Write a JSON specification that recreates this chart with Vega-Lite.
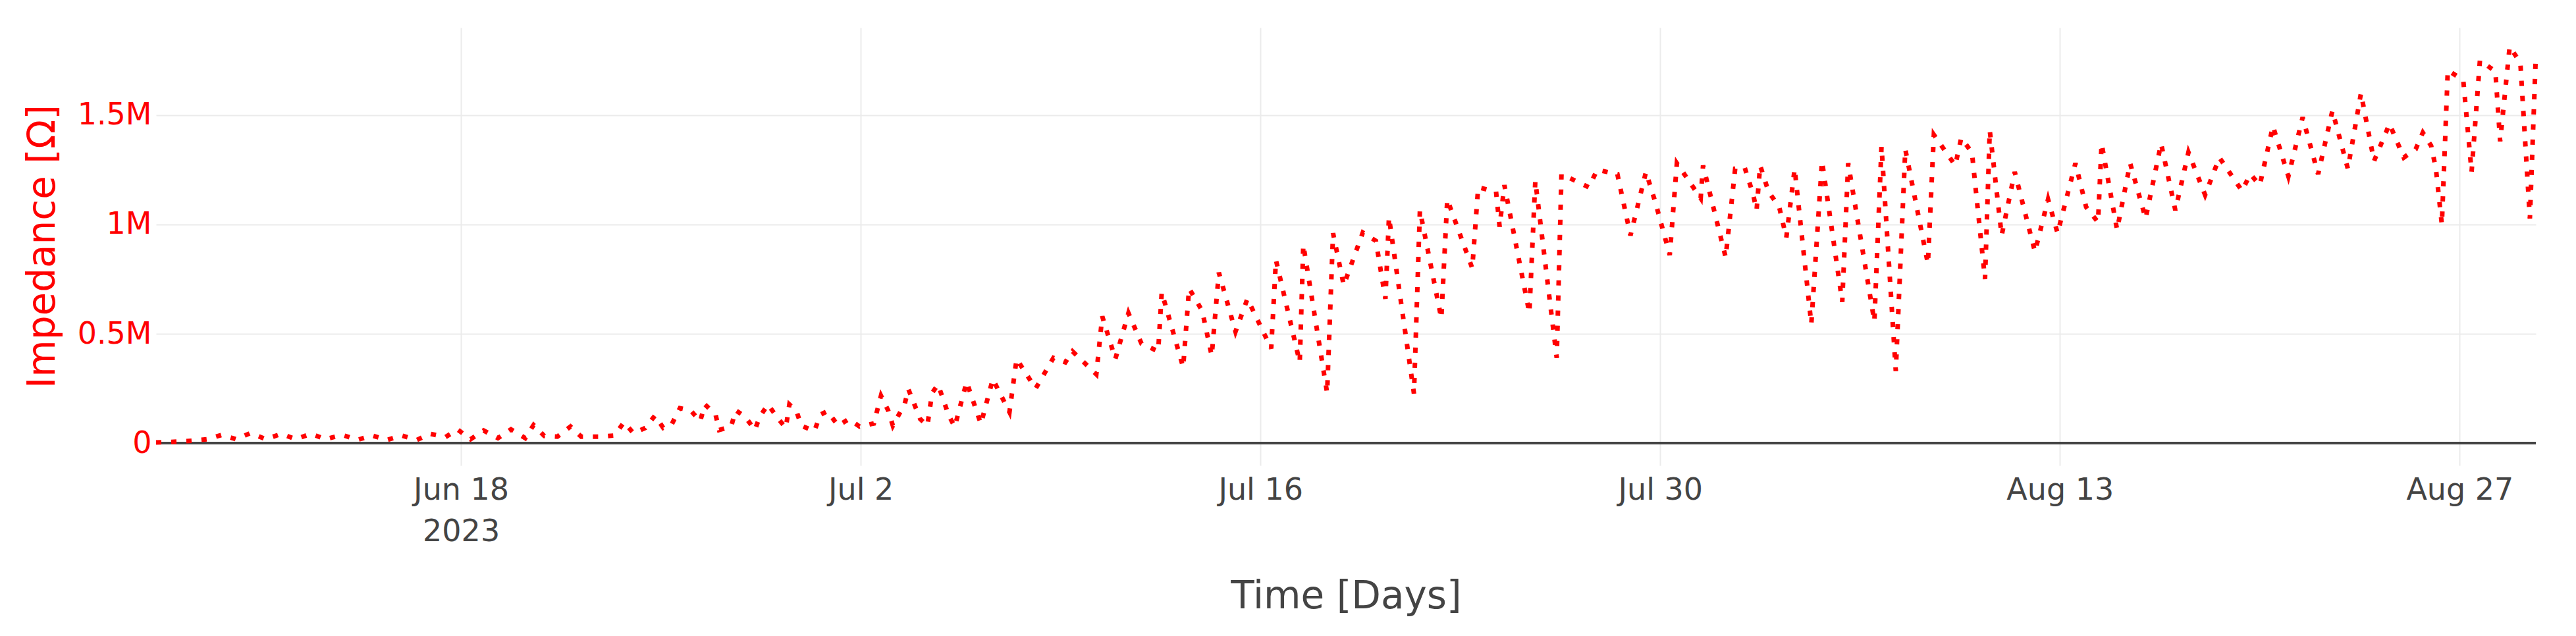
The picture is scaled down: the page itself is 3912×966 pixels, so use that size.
{
  "$schema": "https://vega.github.io/schema/vega-lite/v6.json",
  "width": 3614,
  "height": 665,
  "autosize": {"type": "none"},
  "padding": {"left": 237, "top": 42, "right": 61, "bottom": 259},
  "background": "white",
  "config": {"view": {"stroke": null}, "font": "DejaVu Sans"},
  "data": {"values": [
    {"t": "2023-06-07T07:40", "z": 3000},
    {"t": "2023-06-07T17:00", "z": 5000},
    {"t": "2023-06-08T14:00", "z": 11000},
    {"t": "2023-06-09T03:00", "z": 18000},
    {"t": "2023-06-09T15:00", "z": 38000},
    {"t": "2023-06-10T03:00", "z": 18000},
    {"t": "2023-06-10T15:00", "z": 46000},
    {"t": "2023-06-11T04:00", "z": 18000},
    {"t": "2023-06-11T17:00", "z": 43000},
    {"t": "2023-06-12T05:00", "z": 18000},
    {"t": "2023-06-12T18:00", "z": 43000},
    {"t": "2023-06-13T06:00", "z": 18000},
    {"t": "2023-06-13T20:00", "z": 38000},
    {"t": "2023-06-14T09:00", "z": 15000},
    {"t": "2023-06-14T21:00", "z": 35000},
    {"t": "2023-06-15T10:00", "z": 15000},
    {"t": "2023-06-15T22:00", "z": 35000},
    {"t": "2023-06-16T11:00", "z": 15000},
    {"t": "2023-06-16T22:00", "z": 43000},
    {"t": "2023-06-17T11:00", "z": 28000},
    {"t": "2023-06-17T21:00", "z": 63000},
    {"t": "2023-06-18T08:00", "z": 18000},
    {"t": "2023-06-18T19:00", "z": 58000},
    {"t": "2023-06-19T07:00", "z": 23000},
    {"t": "2023-06-19T18:00", "z": 63000},
    {"t": "2023-06-20T06:00", "z": 23000},
    {"t": "2023-06-20T13:00", "z": 83000},
    {"t": "2023-06-20T22:00", "z": 33000},
    {"t": "2023-06-21T09:00", "z": 30000},
    {"t": "2023-06-21T20:00", "z": 76000},
    {"t": "2023-06-22T05:00", "z": 30000},
    {"t": "2023-06-22T20:00", "z": 30000},
    {"t": "2023-06-23T09:00", "z": 35000},
    {"t": "2023-06-23T17:00", "z": 96000},
    {"t": "2023-06-24T01:00", "z": 45000},
    {"t": "2023-06-24T11:00", "z": 70000},
    {"t": "2023-06-24T19:00", "z": 126000},
    {"t": "2023-06-25T02:00", "z": 70000},
    {"t": "2023-06-25T09:00", "z": 85000},
    {"t": "2023-06-25T16:00", "z": 160000},
    {"t": "2023-06-26T01:00", "z": 150000},
    {"t": "2023-06-26T09:00", "z": 100000},
    {"t": "2023-06-26T13:00", "z": 177000},
    {"t": "2023-06-26T22:00", "z": 130000},
    {"t": "2023-06-27T01:00", "z": 60000},
    {"t": "2023-06-27T11:00", "z": 76000},
    {"t": "2023-06-27T15:00", "z": 150000},
    {"t": "2023-06-27T23:00", "z": 120000},
    {"t": "2023-06-28T07:00", "z": 60000},
    {"t": "2023-06-28T11:00", "z": 120000},
    {"t": "2023-06-28T18:00", "z": 177000},
    {"t": "2023-06-29T02:00", "z": 116000},
    {"t": "2023-06-29T09:00", "z": 70000},
    {"t": "2023-06-29T12:00", "z": 177000},
    {"t": "2023-06-29T18:00", "z": 146000},
    {"t": "2023-06-29T22:00", "z": 80000},
    {"t": "2023-06-30T09:00", "z": 55000},
    {"t": "2023-06-30T14:00", "z": 130000},
    {"t": "2023-06-30T20:00", "z": 146000},
    {"t": "2023-07-01T05:00", "z": 80000},
    {"t": "2023-07-01T14:00", "z": 110000},
    {"t": "2023-07-01T23:00", "z": 76000},
    {"t": "2023-07-02T11:00", "z": 90000},
    {"t": "2023-07-02T17:00", "z": 217000},
    {"t": "2023-07-02T23:00", "z": 150000},
    {"t": "2023-07-03T03:00", "z": 80000},
    {"t": "2023-07-03T13:00", "z": 180000},
    {"t": "2023-07-03T16:00", "z": 247000},
    {"t": "2023-07-04T02:00", "z": 110000},
    {"t": "2023-07-04T08:00", "z": 80000},
    {"t": "2023-07-04T12:00", "z": 230000},
    {"t": "2023-07-04T17:00", "z": 268000},
    {"t": "2023-07-05T02:00", "z": 126000},
    {"t": "2023-07-05T07:00", "z": 75000},
    {"t": "2023-07-05T17:00", "z": 280000},
    {"t": "2023-07-06T05:00", "z": 88000},
    {"t": "2023-07-06T15:00", "z": 293000},
    {"t": "2023-07-07T05:00", "z": 142000},
    {"t": "2023-07-07T11:00", "z": 385000},
    {"t": "2023-07-08T03:00", "z": 250000},
    {"t": "2023-07-08T18:00", "z": 390000},
    {"t": "2023-07-09T04:00", "z": 370000},
    {"t": "2023-07-09T10:00", "z": 420000},
    {"t": "2023-07-10T06:00", "z": 315000},
    {"t": "2023-07-10T11:00", "z": 580000},
    {"t": "2023-07-10T22:00", "z": 385000},
    {"t": "2023-07-11T09:00", "z": 595000},
    {"t": "2023-07-11T20:00", "z": 455000},
    {"t": "2023-07-12T10:00", "z": 420000},
    {"t": "2023-07-12T13:00", "z": 690000},
    {"t": "2023-07-13T07:00", "z": 347000},
    {"t": "2023-07-13T12:00", "z": 708000},
    {"t": "2023-07-13T23:00", "z": 605000},
    {"t": "2023-07-14T07:00", "z": 400000},
    {"t": "2023-07-14T13:00", "z": 780000},
    {"t": "2023-07-15T03:00", "z": 510000},
    {"t": "2023-07-15T13:00", "z": 660000},
    {"t": "2023-07-16T09:00", "z": 433000},
    {"t": "2023-07-16T13:00", "z": 837000},
    {"t": "2023-07-17T09:00", "z": 370000},
    {"t": "2023-07-17T12:00", "z": 907000},
    {"t": "2023-07-18T08:00", "z": 230000},
    {"t": "2023-07-18T13:00", "z": 960000},
    {"t": "2023-07-18T22:00", "z": 722000},
    {"t": "2023-07-19T14:00", "z": 963000},
    {"t": "2023-07-20T01:00", "z": 925000},
    {"t": "2023-07-20T09:00", "z": 660000},
    {"t": "2023-07-20T12:00", "z": 1033000},
    {"t": "2023-07-21T09:00", "z": 227000},
    {"t": "2023-07-21T14:00", "z": 1065000},
    {"t": "2023-07-22T08:00", "z": 570000},
    {"t": "2023-07-22T13:00", "z": 1115000},
    {"t": "2023-07-23T10:00", "z": 800000},
    {"t": "2023-07-23T15:00", "z": 1170000},
    {"t": "2023-07-24T06:00", "z": 1150000},
    {"t": "2023-07-24T09:00", "z": 990000},
    {"t": "2023-07-24T13:00", "z": 1180000},
    {"t": "2023-07-25T10:00", "z": 595000},
    {"t": "2023-07-25T15:00", "z": 1200000},
    {"t": "2023-07-26T09:00", "z": 390000},
    {"t": "2023-07-26T13:00", "z": 1230000},
    {"t": "2023-07-27T12:00", "z": 1170000},
    {"t": "2023-07-27T19:00", "z": 1250000},
    {"t": "2023-07-28T12:00", "z": 1230000},
    {"t": "2023-07-28T23:00", "z": 950000},
    {"t": "2023-07-29T12:00", "z": 1240000},
    {"t": "2023-07-29T20:00", "z": 1100000},
    {"t": "2023-07-30T08:00", "z": 860000},
    {"t": "2023-07-30T14:00", "z": 1280000},
    {"t": "2023-07-31T10:00", "z": 1120000},
    {"t": "2023-07-31T12:00", "z": 1270000},
    {"t": "2023-08-01T07:00", "z": 850000},
    {"t": "2023-08-01T15:00", "z": 1255000},
    {"t": "2023-08-01T23:00", "z": 1260000},
    {"t": "2023-08-02T06:00", "z": 1140000},
    {"t": "2023-08-02T09:00", "z": 1065000},
    {"t": "2023-08-02T12:00", "z": 1270000},
    {"t": "2023-08-02T19:00", "z": 1150000},
    {"t": "2023-08-03T04:00", "z": 1080000},
    {"t": "2023-08-03T10:00", "z": 940000},
    {"t": "2023-08-03T17:00", "z": 1255000},
    {"t": "2023-08-04T07:00", "z": 545000},
    {"t": "2023-08-04T16:00", "z": 1290000},
    {"t": "2023-08-05T09:00", "z": 646000},
    {"t": "2023-08-05T14:00", "z": 1280000},
    {"t": "2023-08-06T12:00", "z": 557000},
    {"t": "2023-08-06T18:00", "z": 1357000},
    {"t": "2023-08-07T06:00", "z": 330000},
    {"t": "2023-08-07T14:00", "z": 1344000},
    {"t": "2023-08-08T09:00", "z": 820000},
    {"t": "2023-08-08T14:00", "z": 1410000},
    {"t": "2023-08-09T08:00", "z": 1270000},
    {"t": "2023-08-09T13:00", "z": 1395000},
    {"t": "2023-08-09T22:00", "z": 1330000},
    {"t": "2023-08-10T09:00", "z": 750000},
    {"t": "2023-08-10T13:00", "z": 1430000},
    {"t": "2023-08-10T23:00", "z": 950000},
    {"t": "2023-08-11T10:00", "z": 1240000},
    {"t": "2023-08-12T03:00", "z": 875000},
    {"t": "2023-08-12T14:00", "z": 1115000},
    {"t": "2023-08-12T22:00", "z": 960000},
    {"t": "2023-08-13T13:00", "z": 1280000},
    {"t": "2023-08-13T22:00", "z": 1080000},
    {"t": "2023-08-14T08:00", "z": 1010000},
    {"t": "2023-08-14T11:00", "z": 1370000},
    {"t": "2023-08-15T00:00", "z": 976000},
    {"t": "2023-08-15T11:00", "z": 1280000},
    {"t": "2023-08-16T00:00", "z": 1027000},
    {"t": "2023-08-16T13:00", "z": 1370000},
    {"t": "2023-08-17T01:00", "z": 1065000},
    {"t": "2023-08-17T12:00", "z": 1330000},
    {"t": "2023-08-18T02:00", "z": 1135000},
    {"t": "2023-08-18T14:00", "z": 1306000},
    {"t": "2023-08-19T09:00", "z": 1154000},
    {"t": "2023-08-19T16:00", "z": 1230000},
    {"t": "2023-08-20T00:00", "z": 1180000},
    {"t": "2023-08-20T11:00", "z": 1450000},
    {"t": "2023-08-21T00:00", "z": 1220000},
    {"t": "2023-08-21T12:00", "z": 1490000},
    {"t": "2023-08-22T01:00", "z": 1230000},
    {"t": "2023-08-22T13:00", "z": 1520000},
    {"t": "2023-08-23T02:00", "z": 1255000},
    {"t": "2023-08-23T13:00", "z": 1600000},
    {"t": "2023-08-24T00:00", "z": 1290000},
    {"t": "2023-08-24T13:00", "z": 1460000},
    {"t": "2023-08-25T01:00", "z": 1306000},
    {"t": "2023-08-25T11:00", "z": 1344000},
    {"t": "2023-08-25T17:00", "z": 1420000},
    {"t": "2023-08-26T00:00", "z": 1360000},
    {"t": "2023-08-26T04:00", "z": 1255000},
    {"t": "2023-08-26T09:00", "z": 1000000},
    {"t": "2023-08-26T14:00", "z": 1705000},
    {"t": "2023-08-27T03:00", "z": 1660000},
    {"t": "2023-08-27T10:00", "z": 1240000},
    {"t": "2023-08-27T17:00", "z": 1750000},
    {"t": "2023-08-28T06:00", "z": 1700000},
    {"t": "2023-08-28T10:00", "z": 1380000},
    {"t": "2023-08-28T18:00", "z": 1813000},
    {"t": "2023-08-29T03:00", "z": 1740000},
    {"t": "2023-08-29T11:00", "z": 1027000},
    {"t": "2023-08-29T16:00", "z": 1775000}
  ]},
  "layer": [
    {
      "mark": {"type": "rule", "color": "#444444", "strokeWidth": 3},
      "encoding": {
        "y": {
          "datum": 0, "type": "quantitative",
          "scale": {"domain": [-102000, 1900000], "nice": false, "zero": false},
          "axis": {
            "values": [0, 500000, 1000000, 1500000],
            "labelExpr": "datum.value == 0 ? '0' : format(datum.value / 1000000, '~g') + 'M'",
            "labelFont": "DejaVu Sans", "labelFontSize": 46, "labelColor": "#ff0000", "labelPadding": 7,
            "ticks": false, "domain": false,
            "grid": true, "gridColor": "#ebebeb", "gridWidth": 2,
            "title": "Impedance [Ω]", "titleFont": "DejaVu Sans", "titleFontSize": 58, "titleFontWeight": "normal",
            "titleColor": "#ff0000", "titleAngle": 270, "titleAlign": "center", "titleBaseline": "alphabetic",
            "titleX": -155, "titleY": 332
          }
        }
      }
    },
    {
      "mark": {"type": "line", "color": "#ff0000", "strokeWidth": 7, "strokeDash": [8, 15], "strokeCap": "butt", "interpolate": "linear"},
      "encoding": {
        "x": {
          "field": "t", "type": "temporal",
          "scale": {"domain": [{"year": 2023, "month": 6, "date": 7, "hours": 7, "minutes": 40}, {"year": 2023, "month": 8, "date": 29, "hours": 16}], "nice": false},
          "axis": {
            "values": [
              {"year": 2023, "month": 6, "date": 18},
              {"year": 2023, "month": 7, "date": 2},
              {"year": 2023, "month": 7, "date": 16},
              {"year": 2023, "month": 7, "date": 30},
              {"year": 2023, "month": 8, "date": 13},
              {"year": 2023, "month": 8, "date": 27}
            ],
            "format": "%b %-d",
            "labelExpr": "datum.label == 'Jun 18' ? ['Jun 18', '2023'] : datum.label",
            "labelFont": "DejaVu Sans", "labelFontSize": 46, "labelColor": "#444444",
            "labelPadding": 15, "labelLineHeight": 63, "labelFlush": false, "labelOverlap": false,
            "ticks": false, "domain": false,
            "grid": true, "gridColor": "#ebebeb", "gridWidth": 2,
            "title": "Time [Days]", "titleFont": "DejaVu Sans", "titleFontSize": 58, "titleFontWeight": "normal",
            "titleColor": "#444444", "titleBaseline": "alphabetic", "titleY": 216
          }
        },
        "y": {
          "field": "z", "type": "quantitative",
          "scale": {"domain": [-102000, 1900000], "nice": false, "zero": false},
          "axis": {
            "values": [0, 500000, 1000000, 1500000],
            "labelExpr": "datum.value == 0 ? '0' : format(datum.value / 1000000, '~g') + 'M'",
            "labelFont": "DejaVu Sans", "labelFontSize": 46, "labelColor": "#ff0000", "labelPadding": 7,
            "ticks": false, "domain": false,
            "grid": true, "gridColor": "#ebebeb", "gridWidth": 2,
            "title": "Impedance [Ω]", "titleFont": "DejaVu Sans", "titleFontSize": 58, "titleFontWeight": "normal",
            "titleColor": "#ff0000", "titleAngle": 270, "titleAlign": "center", "titleBaseline": "alphabetic",
            "titleX": -155, "titleY": 332
          }
        }
      }
    }
  ]
}
